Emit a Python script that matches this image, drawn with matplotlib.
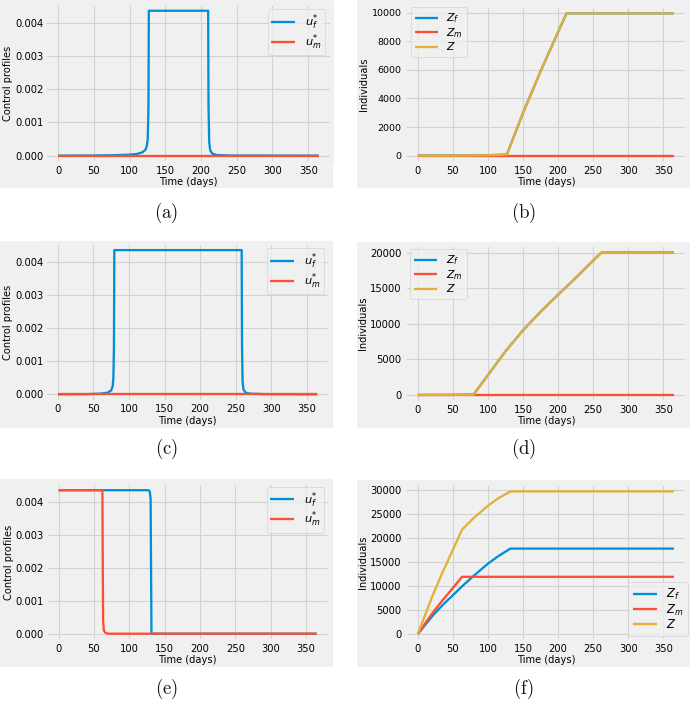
import matplotlib
matplotlib.use('Agg')
import matplotlib.pyplot as plt
from matplotlib.patches import Rectangle
from matplotlib.ticker import MultipleLocator, FormatStrFormatter

plt.style.use('fivethirtyeight')
plt.rcParams.update({
    'font.family': ['DejaVu Sans'],
    'mathtext.fontset': 'dejavusans',
    'axes.facecolor': '#f0f0f0',
    'axes.edgecolor': '#f0f0f0',
    'figure.facecolor': 'white',
    'savefig.facecolor': 'white',
    'grid.color': '#d2d2d2',
    'grid.linewidth': 0.8,
    'lines.linewidth': 1.65,
    'xtick.labelsize': 7.2,
    'ytick.labelsize': 7.2,
    'axes.labelsize': 7.1,
    'legend.fontsize': 8.0,
    'legend.edgecolor': '#cccccc',
})

BLUE = '#008fd5'
RED = '#fc4f30'
ORANGE = '#e5ae38'

# ---------------- data ----------------
# (a) control profiles
ta_uf = [0, 50, 80, 100, 110, 118, 122, 124, 125.5, 126.5, 127, 210, 210.5, 211.5, 213, 216, 222, 240, 365]
ua_uf = [0, 0.000005, 0.000015, 0.00003, 0.00005, 0.0001, 0.00017, 0.00027, 0.0005, 0.0015, 0.00437,
         0.00437, 0.0015, 0.0004, 0.00015, 0.00006, 0.00002, 0.000005, 0]
ta_um = [0, 365]
ua_um = [0, 0]

# (b) individuals
tb = [0, 50, 100, 120, 127, 150, 175, 200, 212, 365]
zb_f = [0, 5, 30, 65, 90, 3000, 5900, 8650, 9950, 9950]
zb_m = [0, 0, 0, 0, 0, 0, 0, 0, 0, 0]
zb = [0, 5, 30, 65, 90, 3000, 5900, 8650, 9950, 9950]

# (c) control profiles
tc_uf = [0, 40, 60, 70, 75, 77, 78, 78.8, 79.3, 258.5, 259, 259.8, 261, 264, 270, 290, 365]
uc_uf = [0, 0.000005, 0.00002, 0.00005, 0.00012, 0.00025, 0.0005, 0.0015, 0.00437,
         0.00437, 0.0015, 0.0004, 0.00015, 0.00005, 0.00002, 0.000005, 0]
tc_um = [0, 365]
uc_um = [0, 0]

# (d) individuals
td = [0, 50, 79.5, 100, 125, 150, 175, 200, 225, 250, 262, 365]
zd_f = [0, 10, 60, 2800, 6150, 9100, 11700, 14100, 16450, 18900, 20050, 20050]
zd_m = [0, 0, 0, 0, 0, 0, 0, 0, 0, 0, 0, 0]
zd = [0, 10, 60, 2800, 6150, 9100, 11700, 14100, 16450, 18900, 20050, 20050]

# (e) control profiles
te_uf = [0, 127, 129, 130.2, 130.8, 131.4, 365]
ue_uf = [0.00437, 0.00437, 0.00433, 0.0041, 0.002, 0, 0]
te_um = [0, 62, 62.5, 63, 64, 66, 70, 365]
ue_um = [0.00437, 0.00437, 0.002, 0.0004, 0.0001, 0.00003, 0, 0]

# (f) individuals
tf = [0, 10, 21, 35, 50, 63, 80, 100, 115, 132, 365]
zf_f = [0, 1800, 3800, 6000, 8100, 9950, 12200, 14700, 16300, 17850, 17850]
tf_m = [0, 10, 21, 35, 50, 63, 365]
zf_m = [0, 2100, 4400, 7000, 9600, 11950, 11950]
zf = [0, 3800, 8000, 12800, 17600, 21800, 24300, 26800, 28400, 29800, 29800]

x_ticks = [0, 50, 100, 150, 200, 250, 300, 350]
captions = ['(a)', '(b)', '(c)', '(d)', '(e)', '(f)']

# ---------------- layout (pixels) ----------------
W, H = 690, 701
fig = plt.figure(figsize=(W / 100, H / 100), dpi=100)

def px_rect(x0, y0, x1, y1):
    return [x0 / W, 1 - y1 / H, (x1 - x0) / W, (y1 - y0) / H]

def px_pt(x, y):
    return (x / W, 1 - y / H)

gray_boxes = [(0, 0, 333, 188), (357, 0, 690, 188),
              (0, 241, 333, 428), (357, 242, 690, 428),
              (0, 479, 333, 667), (357, 480, 690, 667)]
axes_boxes = [(45, 3.5, 332, 162.9), (405, 6.2, 686.7, 162.8),
              (45, 242.9, 330.3, 401.5), (405, 245.2, 686.7, 402.1),
              (45.7, 483, 329.5, 640.9), (405, 484.3, 686.7, 641.1)]
caption_y = [213, 213, 449, 449, 689, 689]

axes = []
for i, (g, a) in enumerate(zip(gray_boxes, axes_boxes)):
    r = px_rect(*g)
    fig.patches.append(Rectangle((r[0], r[1]), r[2], r[3], transform=fig.transFigure,
                                 facecolor='#f0f0f0', edgecolor='none', zorder=-5))
    ax = fig.add_axes(px_rect(*a))
    axes.append(ax)
    cx = (g[0] + g[2]) / 2 / W
    fig.text(cx, 1 - caption_y[i] / H, r'$\mathrm{' + captions[i] + '}$', math_fontfamily='cm',
             fontsize=13.5, ha='center', va='center', color='#111111')

def style_u(ax, anchor):
    ax.set_xticks(x_ticks)
    ax.yaxis.set_major_locator(MultipleLocator(0.001))
    ax.yaxis.set_major_formatter(FormatStrFormatter('%.3f'))
    ax.tick_params(axis='y', pad=1.2, length=0)
    ax.tick_params(axis='x', pad=2.0, length=0)
    ax.set_xlabel('Time (days)', labelpad=1)
    ax.set_ylabel('Control profiles', labelpad=1.5)
    ax.legend(loc='upper right', bbox_to_anchor=px_pt(*anchor), bbox_transform=fig.transFigure,
              borderaxespad=0, fontsize=8.2, handlelength=2.1, labelspacing=0.0, borderpad=0.3,
              handletextpad=0.9)

def style_z(ax, step, tick_fs, loc, anchor, leg_fs):
    ax.set_xticks(x_ticks)
    ax.yaxis.set_major_locator(MultipleLocator(step))
    ax.tick_params(axis='y', pad=2.5, length=0, labelsize=tick_fs)
    ax.tick_params(axis='x', pad=2.0, length=0)
    ax.set_xlabel('Time (days)', labelpad=1)
    ax.set_ylabel('Individuals', labelpad=1.5)
    ax.legend(loc=loc, bbox_to_anchor=px_pt(*anchor), bbox_transform=fig.transFigure,
              borderaxespad=0, fontsize=leg_fs, handlelength=2.1, labelspacing=0.05,
              borderpad=0.4, handletextpad=0.8)

# (a)
ax = axes[0]
ax.plot(ta_uf, ua_uf, color=BLUE, label=r'$u_f^{*}$')
ax.plot(ta_um, ua_um, color=RED, label=r'$u_m^{*}$')
style_u(ax, (325, 9.3))

# (b)
ax = axes[1]
ax.plot(tb, zb_f, color=BLUE, label=r'$Z_f$')
ax.plot(tb, zb_m, color=RED, label=r'$Z_m$')
ax.plot(tb, zb, color=ORANGE, label=r'$Z$')
style_z(ax, 2000, 6.8, 'upper left', (410.7, 7.3), 7.8)

# (c)
ax = axes[2]
ax.plot(tc_uf, uc_uf, color=BLUE, label=r'$u_f^{*}$')
ax.plot(tc_um, uc_um, color=RED, label=r'$u_m^{*}$')
style_u(ax, (324, 248.3))

# (d)
ax = axes[3]
ax.plot(td, zd_f, color=BLUE, label=r'$Z_f$')
ax.plot(td, zd_m, color=RED, label=r'$Z_m$')
ax.plot(td, zd, color=ORANGE, label=r'$Z$')
style_z(ax, 5000, 7.2, 'upper left', (410, 249.3), 7.8)

# (e)
ax = axes[4]
ax.plot(te_uf, ue_uf, color=BLUE, label=r'$u_f^{*}$')
ax.plot(te_um, ue_um, color=RED, label=r'$u_m^{*}$')
style_u(ax, (324, 486.7))

# (f)
ax = axes[5]
ax.plot(tf, zf_f, color=BLUE, label=r'$Z_f$')
ax.plot(tf_m, zf_m, color=RED, label=r'$Z_m$')
ax.plot(tf, zf, color=ORANGE, label=r'$Z$')
style_z(ax, 5000, 7.2, 'lower right', (688, 635.7), 8.3)

fig.savefig('out.png', dpi=100)
